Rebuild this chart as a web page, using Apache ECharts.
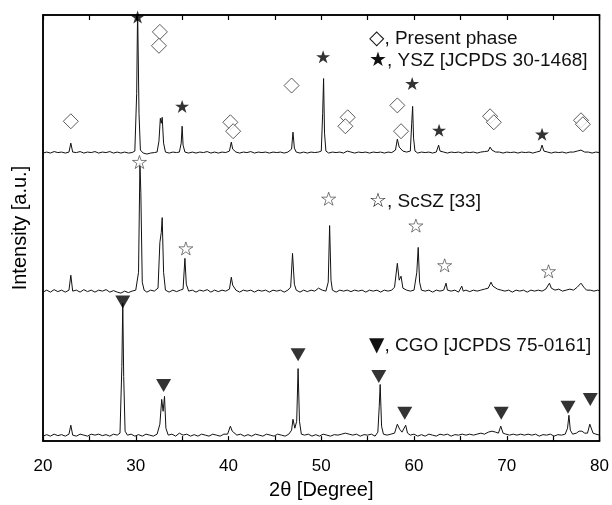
<!DOCTYPE html>
<html><head><meta charset="utf-8">
<script src="https://cdn.jsdelivr.net/npm/echarts@6/dist/echarts.min.js"></script>
<style>html,body{margin:0;padding:0;background:#fff}#c{width:612px;height:505px}</style>
</head><body><div id="c"></div>
<script>
// Trace offsets (stacking baselines, arbitrary units)
const offsets = { ysz: 290, scsz: 150, cgo: 5 };
const xTicks = [20, 30, 40, 50, 60, 70, 80];

// Top trace: present phase (YSZ) - [2θ, relative intensity]
const yszTrace = [[20,0],[20.4,1],[20.8,0],[21.2,1.5],[21.6,0.5],[22,1],[22.4,0],[22.8,1],[23.0,10],[23.2,1],[23.6,0.5],[24,1.5],[24.4,0],[24.8,1],[25.2,0.5],[25.6,1.5],[26,0],[26.4,1],[26.8,0.5],[27.2,1.5],[27.6,0],[28,1],[28.4,0],[28.8,1],[29.2,0],[29.6,0.5],[29.9,2],[30.1,60],[30.2,145],[30.35,40],[30.5,3],[30.8,0],[31.2,-1],[31.6,0],[32,0.5],[32.3,1],[32.5,12],[32.65,35],[32.75,30],[32.85,36],[33.0,10],[33.2,1],[33.6,0],[34,1],[34.4,0.5],[34.7,1],[34.9,10],[35.0,27],[35.1,8],[35.3,1],[35.7,0],[36.1,1],[36.5,0],[36.9,1],[37.3,0.5],[37.7,1.5],[38.1,0],[38.5,1],[38.9,0],[39.3,1],[39.7,0.5],[40.1,2],[40.3,11],[40.45,4],[40.6,5],[40.8,1],[41.2,0],[41.6,1],[42,0.5],[42.4,1.5],[42.8,0],[43.2,1],[43.6,0.5],[44,1],[44.4,0],[44.8,1],[45.2,0.5],[45.6,1],[46,0],[46.4,1],[46.8,4],[46.95,21],[47.1,5],[47.3,1],[47.7,0],[48.1,1],[48.5,0],[48.9,1],[49.3,0.5],[49.7,1],[50.0,2],[50.15,40],[50.25,75],[50.35,20],[50.5,2],[50.8,0],[51.2,1],[51.6,0.5],[52,1],[52.4,0],[52.8,2],[53.2,1],[53.6,0],[54,1],[54.4,0.5],[54.8,1],[55.2,0],[55.6,1],[56,0.5],[56.4,1],[56.8,0],[57.2,1],[57.6,0.5],[58.0,3],[58.2,14],[58.4,6],[58.6,8],[58.8,2],[59.2,1],[59.6,2],[59.75,30],[59.85,47],[59.95,15],[60.1,2],[60.4,0],[60.8,1],[61.2,0.5],[61.6,1],[62,0],[62.4,1],[62.65,8],[62.8,2],[63.2,1],[63.6,0],[64,1],[64.4,0.5],[64.8,1],[65.2,0],[65.6,1],[66,0.5],[66.4,1],[66.8,0],[67.2,1],[67.6,1.5],[68.0,2],[68.2,6],[68.4,3],[68.6,4],[68.8,1],[69.2,1],[69.6,0],[70,1],[70.4,0.5],[70.8,1],[71.2,0],[71.6,1],[72,0.5],[72.4,1],[72.8,0],[73.2,1],[73.6,2],[73.8,8],[74.0,2],[74.4,1],[74.8,0],[75.2,1],[75.6,0.5],[76,1],[76.4,0],[76.8,1],[77.2,1],[77.6,2],[78,3],[78.4,1],[78.8,1],[79.2,0],[79.6,1],[80,0.5]];

// Middle trace: ScSZ
const scszTrace = [[20,0],[20.4,2],[20.8,0],[21.2,2.5],[21.6,0.5],[22,2],[22.4,0],[22.8,2],[23.0,17],[23.2,1],[23.6,2],[24,0],[24.4,2.5],[24.8,0.5],[25.2,2],[25.6,0],[26,2],[26.4,1],[26.8,2.5],[27.2,0],[27.6,1.5],[28,0],[28.4,-1],[28.8,1],[29.2,-0.5],[29.6,1],[30,2],[30.3,20],[30.45,130],[30.55,100],[30.7,10],[30.9,2],[31.2,0],[31.6,2],[32,1],[32.4,4],[32.6,50],[32.75,60],[32.85,75],[33.0,20],[33.2,2],[33.6,0],[34,2],[34.4,0.5],[34.8,2],[35.1,3],[35.3,34],[35.45,8],[35.7,1],[36.1,2],[36.5,0],[36.9,2],[37.3,1],[37.7,2.5],[38.1,0],[38.5,2],[38.9,0.5],[39.3,2],[39.7,1],[40.1,3],[40.3,15],[40.45,7],[40.6,9],[40.8,2],[41.2,0],[41.6,2],[42,1],[42.4,2],[42.8,0],[43.2,2],[43.6,1],[44,2],[44.4,0],[44.8,2],[45.2,1],[45.6,2],[46,0],[46.4,2],[46.7,5],[46.9,39],[47.1,8],[47.3,2],[47.7,0],[48.1,2],[48.5,0.5],[48.9,2],[49.3,1],[49.7,4],[50.1,2],[50.5,1],[50.75,10],[50.9,67],[51.05,12],[51.2,2],[51.6,0],[52,2],[52.4,1],[52.8,2],[53.2,0.5],[53.6,2],[54,1],[54.4,2],[54.8,0],[55.2,2],[55.6,1],[56,2],[56.4,0],[56.8,2],[57.2,1],[57.6,2],[57.9,5],[58.2,29],[58.4,12],[58.6,16],[58.8,4],[59.2,2],[59.6,1],[60.0,2],[60.3,20],[60.45,45],[60.6,10],[60.8,2],[61.2,1],[61.6,2],[62,0],[62.4,2],[62.8,1],[63.2,2],[63.45,9],[63.6,2],[64,1],[64.4,2],[64.8,0],[65.15,6],[65.3,1],[65.6,2],[66,0.5],[66.4,2],[66.8,1],[67.2,2],[67.6,3],[68,4],[68.3,10],[68.5,6],[68.7,7],[69,3],[69.4,2],[69.8,1],[70.2,2],[70.6,0],[71,2],[71.4,1],[71.8,2],[72.2,0],[72.6,2],[73,1],[73.4,2],[73.8,1],[74.2,3],[74.6,9],[74.8,4],[75.2,2],[75.6,3],[76,1],[76.4,2],[76.8,3],[77.2,2],[77.6,5],[78.0,9],[78.3,5],[78.6,2],[79,2],[79.4,1],[79.8,2],[80,1]];

// Bottom trace: CGO
const cgoTrace = [[20,0],[20.4,1.5],[20.8,0],[21.2,2],[21.6,0.5],[22,1.5],[22.4,0],[22.8,2],[23.0,11],[23.2,1],[23.6,0],[24,2],[24.4,1],[24.8,0],[25.2,2],[25.6,1],[26,2],[26.4,0.5],[26.8,1.5],[27.2,0],[27.6,2],[28,1],[28.3,3],[28.5,70],[28.6,134],[28.7,60],[28.85,5],[29.1,1],[29.5,2],[29.9,0],[30.3,1.5],[30.7,0],[31.1,2],[31.5,1],[31.9,0],[32.3,2],[32.6,12],[32.8,37],[32.95,25],[33.1,40],[33.25,8],[33.5,1],[33.9,2],[34.3,0],[34.7,3],[35.1,1],[35.5,2],[35.9,0],[36.3,1.5],[36.7,0],[37.1,2],[37.5,1],[37.9,0],[38.3,2],[38.7,1],[39.1,0],[39.5,2],[39.9,2],[40.2,10],[40.4,5],[40.6,4],[40.9,1],[41.3,2],[41.7,0],[42.1,1.5],[42.5,0],[42.9,2],[43.3,1],[43.7,0],[44.1,2],[44.5,1],[44.9,0],[45.3,2],[45.7,1],[46.1,0],[46.5,2],[46.8,6],[46.95,17],[47.15,8],[47.35,15],[47.5,68],[47.65,15],[47.85,2],[48.2,1],[48.6,2],[49,0],[49.4,1.5],[49.8,0],[50.2,2],[50.6,1],[51,0],[51.4,1.5],[51.8,1],[52.2,2],[52.6,3],[53,2],[53.4,1],[53.8,2],[54.2,0],[54.6,1.5],[55,1],[55.4,2],[55.8,0],[56.1,4],[56.25,30],[56.35,52],[56.5,10],[56.7,2],[57.1,1],[57.5,2],[57.9,3],[58.2,12],[58.45,7],[58.7,4],[58.9,5],[59.1,11],[59.3,3],[59.6,1],[60,2],[60.4,0],[60.8,1.5],[61.2,0],[61.6,2],[62,1],[62.4,0],[62.8,2],[63.2,1],[63.6,2],[64,0],[64.4,1.5],[64.8,1],[65.2,2],[65.6,1],[66,2],[66.4,1],[66.8,2],[67.2,3],[67.6,2],[68,4],[68.4,5],[68.8,4],[69.1,3],[69.35,10],[69.6,3],[69.9,2],[70.3,1],[70.7,2],[71.1,1],[71.5,2],[71.9,1],[72.3,2],[72.7,1],[73.1,2],[73.5,0],[73.9,1.5],[74.3,1],[74.7,2],[75.1,0],[75.5,1.5],[75.9,1],[76.3,2],[76.55,8],[76.7,21],[76.85,6],[77.1,2],[77.5,3],[77.8,5],[78.1,5],[78.4,3],[78.7,3],[78.95,12],[79.1,10],[79.3,3],[79.6,2],[80,1]];

// Phase markers [2θ, intensity level in plot units]
const presentPhase = [[23.0,322],[32.6,412],[32.5,398],[40.2,321],[40.5,312],[46.8,358],[52.85,326],[52.6,317],[58.2,338],[58.6,312],[68.2,327],[68.6,321],[78.0,323],[78.2,319]];
const yszRefs = [[30.2,427],[35.0,337],[50.2,387],[59.8,360],[62.7,313],[73.8,309]];
const scszRefs = [[30.4,281],[35.4,194],[50.8,244],[60.2,217],[63.3,177],[74.5,171]];
const cgoRefs = [[28.6,140],[33.0,56],[47.5,87],[56.2,65],[59.0,28],[69.4,28],[76.6,34],[79.0,42]];

const legendSymbols = ['◇', '★', '☆', '▼'];
const legendTexts = [', Present phase', ', YSZ [JCPDS 30-1468]', ', ScSZ [33]', ', CGO [JCPDS 75-0161]'];

const starPath = 'path://M50,0 L61.8,35.4 L100,35.4 L69.1,57.3 L80.9,93.3 L50,71.4 L19.1,93.3 L30.9,57.3 L0,35.4 L38.2,35.4 Z';

function shift(arr, off){ return arr.map(p => [p[0], p[1] + off]); }

const FONT = 'Liberation Sans, Arial, sans-serif';
const chart = echarts.init(document.getElementById('c'));
const lineStyle = { color: '#111', width: 1 };
const legendTops = [29, 51, 192, 336];
function legendItem(i){
  return { type: 'text', left: 369, top: legendTops[i], style: {
    text: '{s|' + legendSymbols[i] + '}{t|' + legendTexts[i] + '}',
    rich: {
      s: { fontFamily: 'DejaVu Sans', fontSize: 20, fill: '#111', lineHeight: 24, verticalAlign: 'middle' },
      t: { fontFamily: FONT, fontSize: 19, fill: '#111', lineHeight: 24, verticalAlign: 'middle' }
    } } };
}
chart.setOption({
  animation: false,
  grid: { left: 43, right: 10, top: 15, bottom: 61, show: true, borderColor: '#000', borderWidth: 1.5 },
  xAxis: [{
    type: 'value', min: 20, max: 80, interval: 5, position: 'bottom',
    name: '2θ [Degree]', nameLocation: 'middle', nameGap: 38,
    nameTextStyle: { fontFamily: FONT, fontSize: 20, color: '#000' },
    axisLine: { show: true, lineStyle: { color: '#000', width: 1.5 } },
    axisTick: { show: true, inside: true, length: 5, lineStyle: { color: '#000', width: 1.2 } },
    axisLabel: { fontFamily: FONT, fontSize: 17, color: '#000', margin: 17,
      formatter: v => (xTicks.indexOf(v) >= 0 ? String(v) : '') },
    splitLine: { show: false }
  }, {
    type: 'value', min: 20, max: 80, interval: 5, position: 'top',
    axisLine: { show: true, lineStyle: { color: '#000', width: 1.5 } },
    axisTick: { show: true, inside: true, length: 5, lineStyle: { color: '#000', width: 1.2 } },
    axisLabel: { show: false }, splitLine: { show: false }
  }],
  yAxis: [{
    type: 'value', min: 0, max: 429,
    name: 'Intensity [a.u.]', nameLocation: 'middle', nameGap: 13, nameRotate: 90,
    nameTextStyle: { fontFamily: FONT, fontSize: 20, color: '#000' },
    axisLine: { show: true, lineStyle: { color: '#000', width: 1.5 } },
    axisTick: { show: false }, axisLabel: { show: false }, splitLine: { show: false }
  }],
  series: [
    { type: 'line', data: shift(yszTrace, offsets.ysz), showSymbol: false, lineStyle, clip: true },
    { type: 'line', data: shift(scszTrace, offsets.scsz), showSymbol: false, lineStyle, clip: true },
    { type: 'line', data: shift(cgoTrace, offsets.cgo), showSymbol: false, lineStyle, clip: true },
    { type: 'scatter', data: presentPhase, symbol: 'diamond', symbolSize: [15, 15],
      itemStyle: { color: '#fff', borderColor: '#333', borderWidth: 1 }, z: 5 },
    { type: 'scatter', data: yszRefs, symbol: starPath, symbolSize: [14, 13],
      itemStyle: { color: '#000' }, z: 5 },
    { type: 'scatter', data: scszRefs, symbol: starPath, symbolSize: [14, 13],
      itemStyle: { color: '#fff', borderColor: '#333', borderWidth: 0.8 }, z: 5 },
    { type: 'scatter', data: cgoRefs, symbol: 'triangle', symbolRotate: 180, symbolSize: [15, 13],
      itemStyle: { color: '#000' }, z: 5 }
  ],
  graphic: [0, 1, 2, 3].map(legendItem)
});
</script></body></html>
